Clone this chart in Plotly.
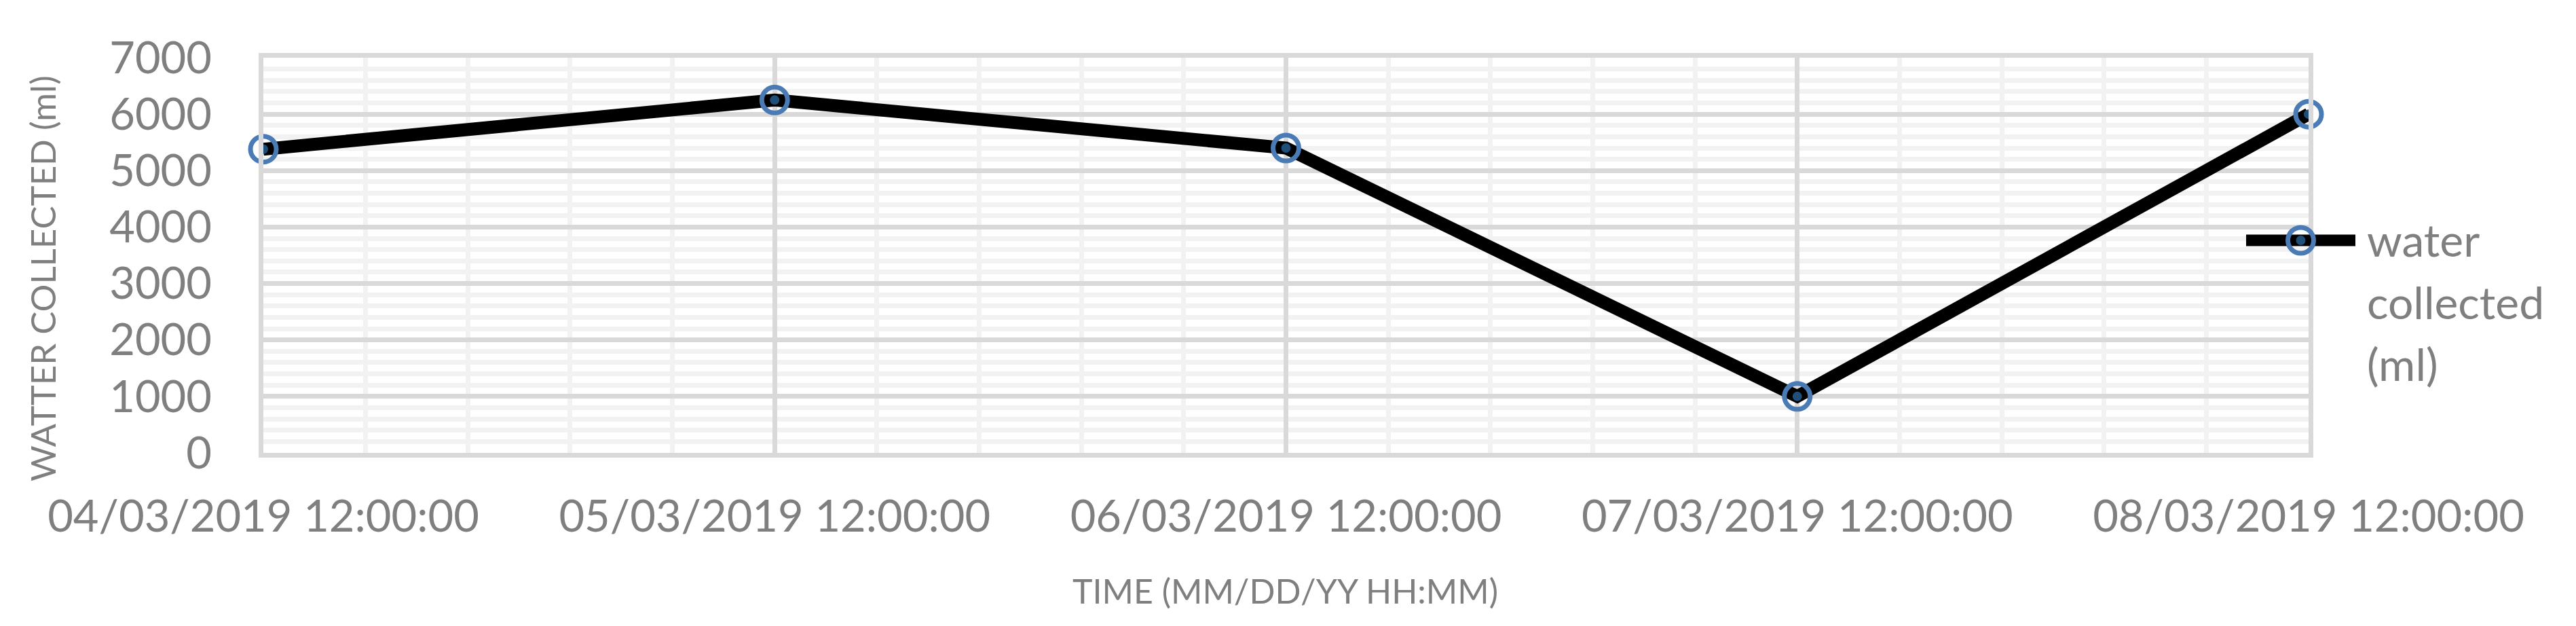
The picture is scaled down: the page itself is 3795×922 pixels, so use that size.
import plotly.graph_objects as go

# ---- data ----
times = ["2019-03-04 12:00:00", "2019-03-05 12:00:00", "2019-03-06 12:00:00",
         "2019-03-07 12:00:00", "2019-03-08 12:00:00"]
water_ml = [5380, 6250, 5400, 1000, 6000]
series_name = "water collected (ml)"
legend_lines = ["water", "collected", "(ml)"]
y_title = "WATTER COLLECTED (ml)"
x_title = "TIME (MM/DD/YY HH:MM)"
y_range = [0, 7000]

# ---- geometry (pixels of the 3795x922 canvas) ----
W, H = 3795, 922
PL, PR, PT, PB = 388, 3401, 85, 667


def fx(x):
    return x / W


def fy(y):
    return 1 - y / H


GRAY_TXT = "#7f7f7f"
MAJOR = "#d9d9d9"
MINOR = "#f2f2f2"
RING = "#4a7bb5"
DOT = "#1f4e79"
FONT = "Lato"
DAY_MS = 86400000

fig = go.Figure()

# main series
fig.add_trace(go.Scatter(x=times, y=water_ml, mode="lines", name=series_name,
                         line=dict(color="black", width=19), showlegend=False,
                         hoverinfo="skip"))
fig.add_trace(go.Scatter(x=times, y=water_ml, mode="markers", name=series_name,
                         marker=dict(symbol="circle-open", size=38, color=RING,
                                     line=dict(width=7)),
                         showlegend=False, cliponaxis=False))
fig.add_trace(go.Scatter(x=times, y=water_ml, mode="markers", name=series_name,
                         marker=dict(symbol="circle", size=14, color=DOT),
                         showlegend=False, cliponaxis=False, hoverinfo="skip"))

# legend key (drawn on an auxiliary, hidden axis pair)
fig.add_trace(go.Scatter(x=[0, 1], y=[0, 0], xaxis="x2", yaxis="y2", mode="lines",
                         line=dict(color="black", width=17), showlegend=False,
                         hoverinfo="skip", cliponaxis=False))
fig.add_trace(go.Scatter(x=[0.5], y=[0], xaxis="x2", yaxis="y2", mode="markers",
                         marker=dict(symbol="circle-open", size=38, color=RING,
                                     line=dict(width=7)),
                         showlegend=False, hoverinfo="skip", cliponaxis=False))
fig.add_trace(go.Scatter(x=[0.5], y=[0], xaxis="x2", yaxis="y2", mode="markers",
                         marker=dict(symbol="circle", size=14, color=DOT),
                         showlegend=False, hoverinfo="skip", cliponaxis=False))

tickfont = dict(family=FONT, size=65, color=GRAY_TXT)

fig.update_layout(
    width=W, height=H,
    margin=dict(l=0, r=0, t=0, b=0),
    paper_bgcolor="white",
    plot_bgcolor="rgba(0,0,0,0)",
    showlegend=False,
    xaxis=dict(
        type="date", domain=[fx(PL), fx(PR)], anchor="y",
        range=[times[0], times[-1]],
        tick0=times[0], dtick=DAY_MS, tickformat="%d/%m/%Y %H:%M:%S",
        showgrid=True, gridcolor=MAJOR, gridwidth=7,
        minor=dict(dtick=DAY_MS / 5, tick0=times[0], showgrid=True,
                   gridcolor=MINOR, gridwidth=7),
        showline=True, linecolor=MAJOR, linewidth=7, mirror=True,
        zeroline=False, ticks="", tickfont=tickfont,
        ticklabelstandoff=31, automargin=False,
    ),
    yaxis=dict(
        domain=[fy(PB), fy(PT)], anchor="x",
        range=y_range, dtick=1000, tick0=0,
        showgrid=True, gridcolor=MAJOR, gridwidth=7,
        minor=dict(dtick=200, tick0=0, showgrid=True, gridcolor=MINOR, gridwidth=7),
        showline=True, linecolor=MAJOR, linewidth=7, mirror=True,
        zeroline=False, ticks="", tickfont=tickfont,
        ticklabelstandoff=56, automargin=False,
    ),
    xaxis2=dict(domain=[fx(3309), fx(3470)], anchor="y2", range=[0, 1],
                visible=False, fixedrange=True),
    yaxis2=dict(domain=[fy(374), fy(334)], anchor="x2", range=[-1, 1],
                visible=False, fixedrange=True),
)

annos = [
    dict(text=y_title, x=fx(62), y=fy(410), xref="paper", yref="paper",
         textangle=-90, showarrow=False, xanchor="center", yanchor="middle",
         font=dict(family=FONT, size=51, color=GRAY_TXT)),
    dict(text=x_title, x=fx(1893), y=fy(870), xref="paper", yref="paper",
         showarrow=False, xanchor="center", yanchor="middle",
         font=dict(family=FONT, size=50, color=GRAY_TXT)),
]
leg_centers = [352, 444, 535]
for txt, yc in zip(legend_lines, leg_centers):
    annos.append(dict(text=txt, x=fx(3485), y=fy(yc), xref="paper", yref="paper",
                      showarrow=False, xanchor="left", yanchor="middle",
                      font=dict(family=FONT, size=66, color=GRAY_TXT)))
fig.update_layout(annotations=annos)

fig.write_html("out.html", config={"displayModeBar": False},
               post_script="document.body.style.margin='0';document.body.style.overflow='hidden';")
